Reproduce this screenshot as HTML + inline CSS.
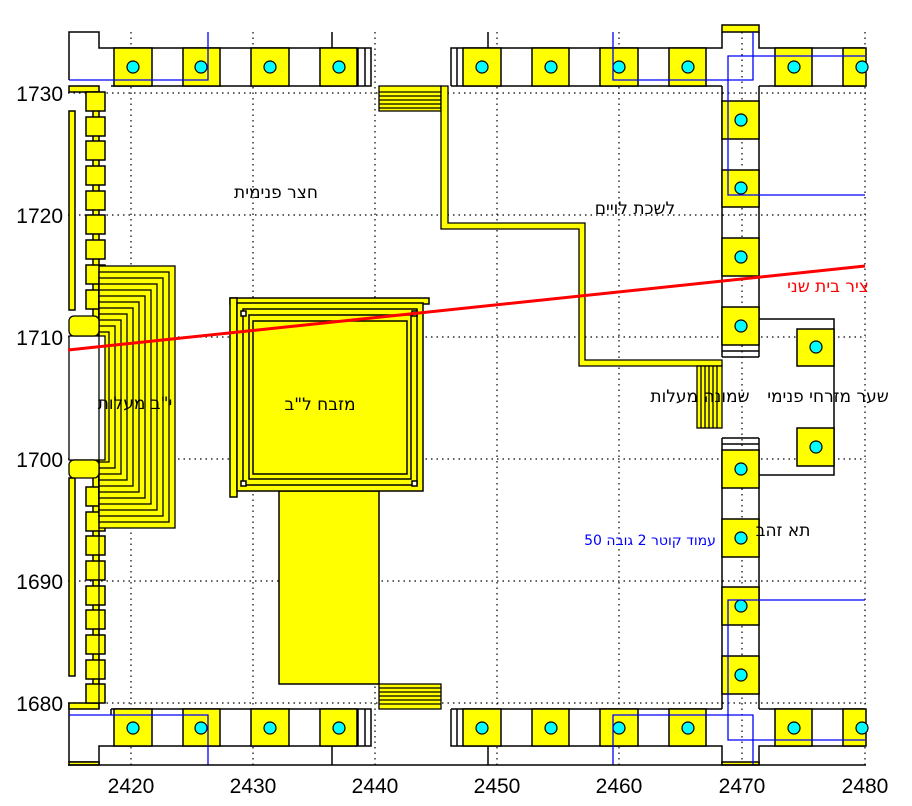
<!DOCTYPE html>
<html><head><meta charset="utf-8"><style>
html,body{margin:0;padding:0;background:#fff;}
svg{display:block;}
.t{font-family:"DejaVu Sans","Liberation Sans",sans-serif;font-size:17px;fill:#000;}
.ax{font-family:"Liberation Sans",sans-serif;font-size:21px;fill:#000;}
</style></head><body>
<svg width="912" height="806" viewBox="0 0 912 806" xmlns="http://www.w3.org/2000/svg">
<g stroke="#000" stroke-width="1.2" stroke-dasharray="1.5 4" fill="none">
<line x1="131" y1="32" x2="131" y2="765"/><line x1="253" y1="32" x2="253" y2="765"/><line x1="375" y1="32" x2="375" y2="765"/><line x1="497" y1="32" x2="497" y2="765"/><line x1="619" y1="32" x2="619" y2="765"/><line x1="742" y1="32" x2="742" y2="765"/><line x1="865" y1="32" x2="865" y2="765"/>
<line x1="68" y1="93" x2="866" y2="93"/><line x1="68" y1="215" x2="866" y2="215"/><line x1="68" y1="337" x2="866" y2="337"/><line x1="68" y1="459" x2="866" y2="459"/><line x1="68" y1="581" x2="866" y2="581"/><line x1="68" y1="703" x2="866" y2="703"/>
</g>
<g stroke="#000" stroke-width="1.5" fill="#ff0">
<polyline fill="none" points="69,80 69,32 99,32 99,48 371,48 371,86 111,86"/>
<line x1="365" y1="48" x2="365" y2="86"/><line x1="358" y1="48" x2="358" y2="86"/>
<line x1="332" y1="32" x2="332" y2="48"/>
<rect x="114" y="48" width="38" height="38"/><rect x="183" y="48" width="37" height="38"/><rect x="251" y="48" width="38" height="38"/><rect x="320" y="48" width="37" height="38"/>
<polyline fill="none" points="451,86 451,48 722,48 722,32"/>
<polyline fill="none" points="759,32 759,48 865,48"/>
<line x1="451" y1="86" x2="722" y2="86"/><line x1="759" y1="86" x2="865" y2="86"/>
<line x1="457" y1="48" x2="457" y2="86"/><line x1="488" y1="32" x2="488" y2="48"/>
<rect x="463" y="48" width="38" height="38"/><rect x="532" y="48" width="37" height="38"/><rect x="600" y="48" width="38" height="38"/><rect x="669" y="48" width="37" height="38"/>
<rect x="775" y="48" width="37" height="38"/><rect x="843" y="48" width="23" height="38"/>
<rect x="722" y="25" width="37" height="7"/>
<polyline fill="none" points="69,703 69,762 99,762"/>
<polyline fill="none" points="111,709 371,709 371,746 99,746 99,765"/>
<line x1="365" y1="709" x2="365" y2="746"/><line x1="358" y1="709" x2="358" y2="746"/>
<line x1="111" y1="709" x2="111" y2="715"/>
<line x1="332" y1="746" x2="332" y2="765"/>
<rect x="114" y="709" width="38" height="37"/><rect x="183" y="709" width="37" height="37"/><rect x="251" y="709" width="38" height="37"/><rect x="320" y="709" width="37" height="37"/>
<rect x="69" y="762" width="30" height="3"/><rect x="69" y="703" width="30" height="6"/>
<line x1="451" y1="709" x2="722" y2="709"/><line x1="759" y1="709" x2="865" y2="709"/>
<polyline fill="none" points="451,709 451,746 722,746 722,765"/>
<polyline fill="none" points="759,765 759,746 865,746"/>
<line x1="457" y1="709" x2="457" y2="746"/><line x1="488" y1="746" x2="488" y2="765"/>
<rect x="463" y="709" width="38" height="37"/><rect x="532" y="709" width="37" height="37"/><rect x="600" y="709" width="38" height="37"/><rect x="669" y="709" width="37" height="37"/>
<rect x="775" y="709" width="37" height="37"/><rect x="843" y="709" width="23" height="37"/>
<rect x="722" y="762" width="37" height="3"/>
<line x1="722" y1="86" x2="722" y2="357" /><line x1="759" y1="86" x2="759" y2="357"/>
<line x1="722" y1="357" x2="759" y2="357"/><line x1="722" y1="351" x2="759" y2="351"/>
<rect x="722" y="101" width="37" height="38"/><rect x="722" y="170" width="37" height="37"/><rect x="722" y="238" width="37" height="38"/><rect x="722" y="307" width="37" height="38"/>
<line x1="722" y1="438" x2="722" y2="709"/><line x1="759" y1="438" x2="759" y2="709"/>
<line x1="722" y1="438" x2="759" y2="438"/><line x1="722" y1="444" x2="759" y2="444"/>
<rect x="722" y="450" width="37" height="38"/><rect x="722" y="519" width="37" height="38"/><rect x="722" y="587" width="37" height="38"/><rect x="722" y="656" width="37" height="38"/>
<polyline fill="none" points="759,319 834,319 834,475 759,475"/>
<rect x="797" y="329" width="37" height="37"/><rect x="797" y="428" width="37" height="38"/>
<rect x="69" y="86" width="30" height="6"/>
<rect x="69" y="111" width="6" height="199"/><rect x="69" y="478" width="6" height="198"/>
<rect x="93" y="92" width="6" height="611"/>
</g>
<g stroke="#000" stroke-width="1.5" fill="#ff0">
<rect x="86" y="92" width="19" height="19"/><rect x="86" y="117" width="19" height="19"/><rect x="86" y="141" width="19" height="19"/><rect x="86" y="166" width="19" height="19"/><rect x="86" y="191" width="19" height="19"/><rect x="86" y="215" width="19" height="19"/><rect x="86" y="240" width="19" height="19"/><rect x="86" y="265" width="19" height="19"/><rect x="86" y="290" width="19" height="19"/>
<rect x="86" y="487" width="19" height="19"/><rect x="86" y="512" width="19" height="19"/><rect x="86" y="536" width="19" height="19"/><rect x="86" y="561" width="19" height="19"/><rect x="86" y="586" width="19" height="19"/><rect x="86" y="610" width="19" height="19"/><rect x="86" y="635" width="19" height="19"/><rect x="86" y="660" width="19" height="19"/><rect x="86" y="684" width="19" height="19"/>
</g>
<g stroke="#000" stroke-width="1.3" fill="#ff0">
<rect x="99" y="266" width="76" height="262"/>
<rect x="99" y="272" width="70" height="250"/>
<rect x="99" y="278" width="64" height="238"/>
<rect x="99" y="284" width="58" height="226"/>
<rect x="99" y="290" width="52" height="214"/>
<rect x="99" y="296" width="46" height="202"/>
<rect x="99" y="302" width="40" height="190"/>
<rect x="99" y="308" width="34" height="178"/>
<rect x="99" y="314" width="28" height="166"/>
<rect x="99" y="320" width="22" height="154"/>
<rect x="99" y="326" width="16" height="142"/>
<rect x="99" y="332" width="10" height="130"/>
<rect x="69" y="336" width="36" height="124" fill="#fff"/>
<line x1="99" y1="266" x2="99" y2="709"/>
<rect x="69" y="316" width="30" height="20" rx="5"/><rect x="69" y="460" width="30" height="18" rx="5"/>
</g>
<g stroke="#000" stroke-width="1.5" fill="#ff0">
<rect x="279" y="491" width="100" height="193"/>
<rect x="230" y="298" width="199" height="6"/>
<rect x="230" y="298" width="7" height="199"/>
<rect x="237" y="303" width="186" height="188"/>
<rect x="243" y="309" width="174" height="176"/>
<rect x="249" y="315" width="162" height="164"/>
<rect x="253" y="321" width="154" height="153"/>
<rect x="241" y="311" width="5" height="5" fill="#fff"/><rect x="412" y="311" width="5" height="5" fill="#fff"/><rect x="241" y="481" width="5" height="5" fill="#fff"/><rect x="412" y="481" width="5" height="5" fill="#fff"/>
</g>
<g stroke="#000" stroke-width="1.3" fill="#ff0">
<rect x="379" y="86" width="62" height="25"/>
<line x1="379" y1="92" x2="441" y2="92"/><line x1="379" y1="96" x2="441" y2="96"/><line x1="379" y1="100" x2="441" y2="100"/><line x1="379" y1="104" x2="441" y2="104"/><line x1="379" y1="108" x2="441" y2="108"/>
<rect x="379" y="684" width="62" height="25"/>
<line x1="379" y1="688" x2="441" y2="688"/><line x1="379" y1="692" x2="441" y2="692"/><line x1="379" y1="696" x2="441" y2="696"/><line x1="379" y1="700" x2="441" y2="700"/><line x1="379" y1="704" x2="441" y2="704"/>
<polygon points="441,86 448,86 448,223 585,223 585,360 722,360 722,366 579,366 579,229 441,229"/>
<rect x="697" y="366" width="25" height="62"/>
<line x1="701" y1="366" x2="701" y2="428"/><line x1="705" y1="366" x2="705" y2="428"/><line x1="709" y1="366" x2="709" y2="428"/><line x1="713" y1="366" x2="713" y2="428"/><line x1="717" y1="366" x2="717" y2="428"/>
</g>
<g stroke="#000" stroke-width="1.2" fill="#0ff">
<circle cx="133" cy="67" r="6"/><circle cx="201" cy="67" r="6"/><circle cx="270" cy="67" r="6"/><circle cx="339" cy="67" r="6"/>
<circle cx="482" cy="67" r="6"/><circle cx="551" cy="67" r="6"/><circle cx="619" cy="67" r="6"/><circle cx="688" cy="67" r="6"/><circle cx="794" cy="67" r="6"/><circle cx="862" cy="67" r="6"/>
<circle cx="133" cy="728" r="6"/><circle cx="201" cy="728" r="6"/><circle cx="270" cy="728" r="6"/><circle cx="339" cy="728" r="6"/>
<circle cx="482" cy="728" r="6"/><circle cx="551" cy="728" r="6"/><circle cx="619" cy="728" r="6"/><circle cx="688" cy="728" r="6"/><circle cx="794" cy="728" r="6"/><circle cx="862" cy="728" r="6"/>
<circle cx="741" cy="120" r="6"/><circle cx="741" cy="188" r="6"/><circle cx="741" cy="257" r="6"/><circle cx="741" cy="326" r="6"/>
<circle cx="741" cy="469" r="6"/><circle cx="741" cy="538" r="6"/><circle cx="741" cy="606" r="6"/><circle cx="741" cy="675" r="6"/>
<circle cx="816" cy="347" r="6"/><circle cx="816" cy="447" r="6"/>
</g>
<g stroke="#00f" stroke-width="1.3" fill="none">
<polyline points="69,80 208,80 208,32"/>
<polyline points="69,715 208,715 208,765"/>
<polyline points="613,32 613,80 753,80 753,32"/>
<polyline points="613,765 613,715 753,715 753,765"/>
<polyline points="865,56 728,56 728,195 865,195"/>
<polyline points="865,600 728,600 728,740 865,740"/>
</g>
<line x1="68" y1="765" x2="866" y2="765" stroke="#000" stroke-width="1.5"/>
<line x1="68" y1="350" x2="865" y2="266" stroke="#f00" stroke-width="3"/>
<text class="t" x="276" y="198" text-anchor="middle">חצר פנימית</text>
<text class="t" x="635" y="214" text-anchor="middle">לשכת לויים</text>
<text class="t" x="828" y="292" text-anchor="middle" style="fill:#f00">ציר בית שני</text>
<text class="t" x="135" y="409" text-anchor="middle">י"ב מעלות</text>
<text class="t" x="320" y="410" text-anchor="middle">מזבח ל"ב</text>
<text class="t" x="700" y="402" text-anchor="middle">שמונה מעלות</text>
<text class="t" x="828" y="402" text-anchor="middle">שער מזרחי פנימי</text>
<text class="t" x="783" y="536" text-anchor="middle">תא זהב</text>
<text class="t" x="650" y="545" text-anchor="middle" style="fill:#00f;font-size:14px">עמוד קוטר 2 גובה 50</text>
<g class="ax" text-anchor="end">
<text x="63" y="101">1730</text><text x="63" y="223">1720</text><text x="63" y="345">1710</text><text x="63" y="467">1700</text><text x="63" y="589">1690</text><text x="63" y="711">1680</text>
</g>
<g class="ax" text-anchor="middle">
<text x="131" y="793">2420</text><text x="253" y="793">2430</text><text x="375" y="793">2440</text><text x="497" y="793">2450</text><text x="619" y="793">2460</text><text x="742" y="793">2470</text><text x="865" y="793">2480</text>
</g>
</svg>
</body></html>
